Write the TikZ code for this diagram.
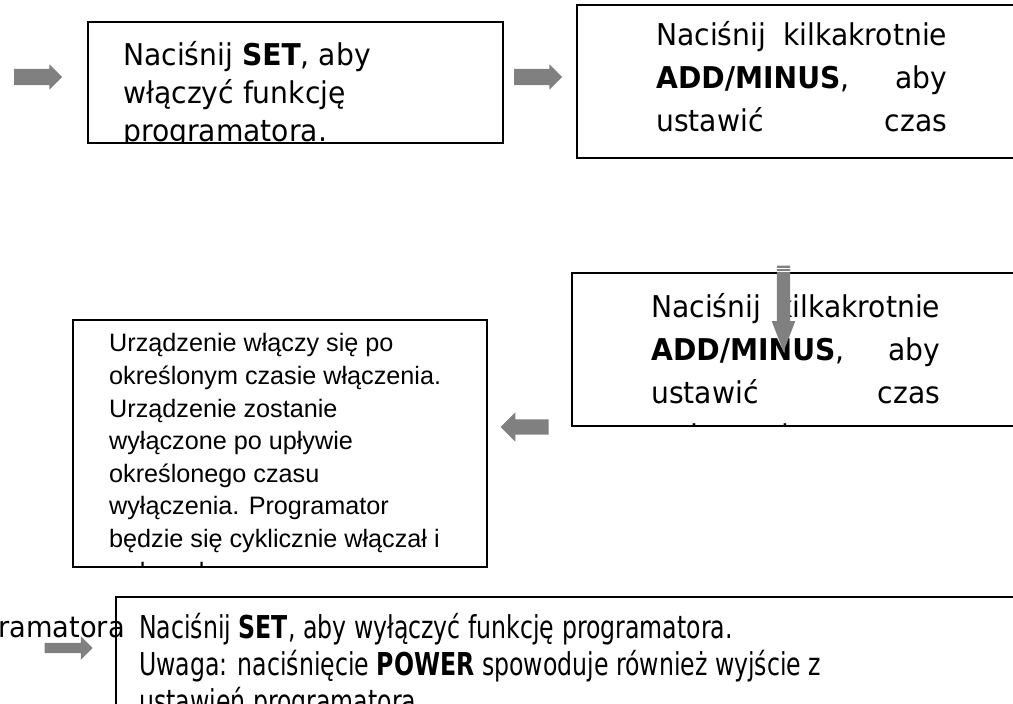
\documentclass[tikz,border=0pt]{standalone}
\usepackage{fontspec}
\setmainfont{Liberation Sans}
\newfontfamily\tahomalike[FakeStretch=0.94]{DejaVu Sans}
\newfontfamily\narrowfont[FakeStretch=0.75]{DejaVu Sans}
\usetikzlibrary{shapes.arrows}

\tikzset{
  stepbox/.style={draw, line width=1.3pt, inner sep=0pt},
  greyarrow/.style={single arrow, fill=gray, draw=none, inner xsep=0pt, inner ysep=8pt,
    single arrow head extend=4.5pt, minimum height=48pt},
  boxtext/.style={anchor=base west, inner sep=0pt, align=left,
    font=\tahomalike\fontsize{30}{38}\selectfont},
}

\begin{document}
\begin{tikzpicture}[x=1pt,y=-1pt]
  \useasboundingbox (0,0) rectangle (1013,704);

  % boxes
  \node[stepbox, minimum width=415pt, minimum height=121pt] (seton) at (295.5,82.5) {};
  \node[stepbox, minimum width=453pt, minimum height=153pt] (timeon) at (803.5,81.5) {};
  \node[stepbox, minimum width=458pt, minimum height=153pt] (timeoff) at (801,349.5) {};
  \node[stepbox, minimum width=414pt, minimum height=247pt] (cycle) at (280,443.5) {};
  \node[stepbox, minimum width=914pt, minimum height=123pt] (setoff) at (573,658.5) {};

  % texts, cut off by their boxes (placed at the baseline of the last line)
  \begin{scope}
    \clip (seton.south west) rectangle (seton.north east);
    \node[boxtext] (setontxt) at (123,141) {Naciśnij \textbf{SET}, aby\\ włączyć funkcję\\ programatora.};
  \end{scope}
  \begin{scope}
    \clip (timeon.south west) rectangle (timeon.north east);
    \node[boxtext, font=\tahomalike\fontsize{30}{43}\selectfont] (timeontxt) at (656,131)
      {\makebox[291pt][s]{Naciśnij kilkakrotnie}\\
       \makebox[291pt][s]{\textbf{ADD/MINUS}, aby}\\
       \makebox[291pt][s]{ustawić czas}};
  \end{scope}
  \begin{scope}
    \clip (timeoff.south west) rectangle (timeoff.north east);
    \node[boxtext, font=\tahomalike\fontsize{30}{43}\selectfont] (timeofftxt) at (651,446)
      {\makebox[289pt][s]{Naciśnij kilkakrotnie}\\
       \makebox[289pt][s]{\textbf{ADD/MINUS}, aby}\\
       \makebox[289pt][s]{ustawić czas}\\
       wyłączenia.};
  \end{scope}
  \begin{scope}
    \clip (cycle.south west) rectangle (cycle.north east);
    \node[boxtext, font=\fontsize{25.2}{32.6}\selectfont] (cycletxt) at (109,580)
      {Urządzenie włączy się po\\ określonym czasie włączenia.\\ Urządzenie zostanie\\
       wyłączone po upływie\\ określonego czasu\\ wyłączenia. Programator\\
       będzie się cyklicznie włączał i\\ wyłączał.};
  \end{scope}
  \begin{scope}
    \clip (setoff.south west) rectangle (setoff.north east);
    \node[boxtext, font=\narrowfont\fontsize{31.5}{37}\selectfont] (setofftxt) at (139,712)
      {Naciśnij \textbf{SET}, aby wyłączyć funkcję programatora.\\
       Uwaga: naciśnięcie \textbf{POWER} spowoduje również wyjście z\\
       ustawień programatora.};
  \end{scope}
  \node[anchor=base east, inner sep=0pt, font=\tahomalike\fontsize{29}{37}\selectfont]
    (lefttxt) at (125,637) {programatora};

  % grey arrows
  \node[greyarrow] (in) at (34,77) {};
  \node[greyarrow] (next) at (534,77) {};
  \node[greyarrow, shape border rotate=270, inner xsep=6.5pt, inner ysep=0pt, minimum height=86pt,
    single arrow head extend=5pt, single arrow tip angle=42] (down) at (783.5,300) {};
  \foreach \dy in {2.5,5.5}
    \draw[white, line width=0.8pt] ([xshift=-7pt,yshift=-\dy pt]down.tail) -- ([xshift=7pt,yshift=-\dy pt]down.tail);
  \node[greyarrow, shape border rotate=180, inner ysep=7.5pt, single arrow head extend=7pt] (back) at (528.5,427) {};
  \node[greyarrow, inner ysep=5pt, single arrow head extend=6.5pt] (out) at (66,648) {};
\end{tikzpicture}
\end{document}
